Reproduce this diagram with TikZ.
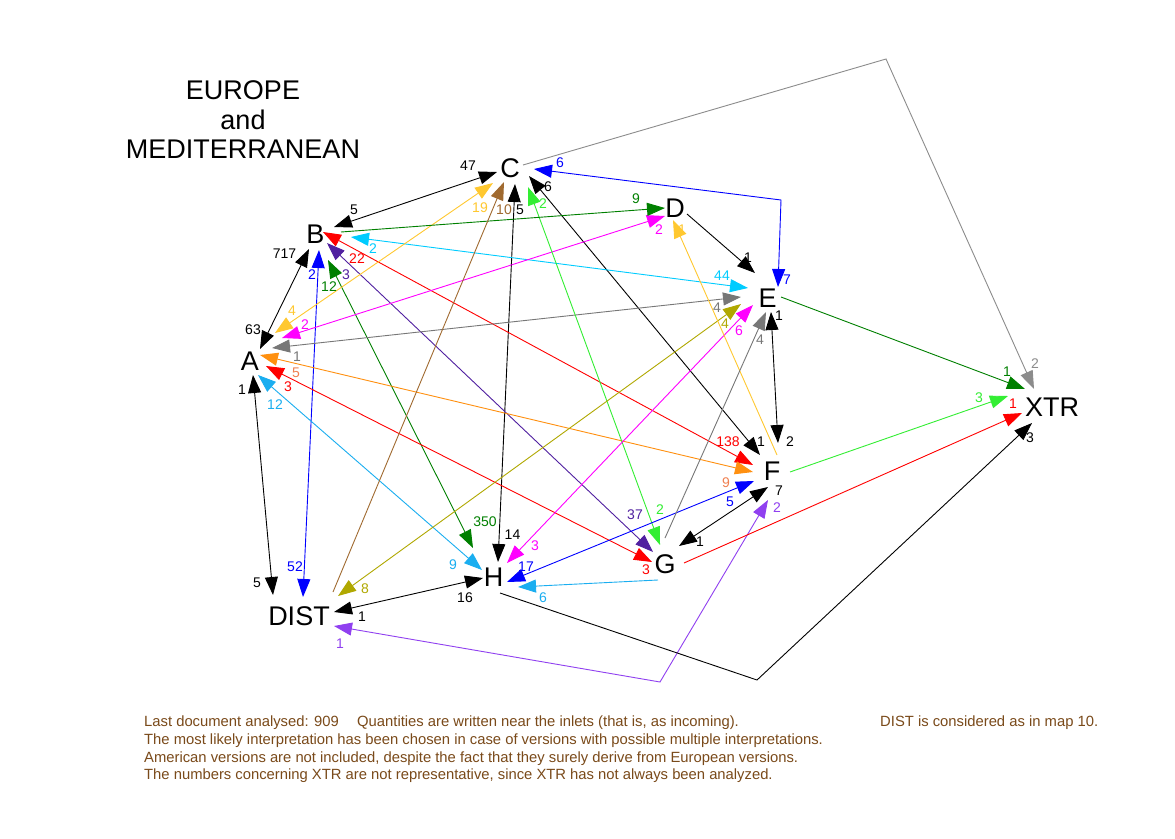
\documentclass[tikz,border=0pt]{standalone}
\usepackage{fontspec}
\setmainfont{Liberation Sans}
\usetikzlibrary{arrows.meta}
\definecolor{cgray}{HTML}{777777}
\definecolor{clgray}{HTML}{8C8C8C}
\definecolor{cblue}{HTML}{0000FF}
\definecolor{cdgreen}{HTML}{008000}
\definecolor{ccyan}{HTML}{00CCFF}
\definecolor{csky}{HTML}{1AAEF0}
\definecolor{cred}{HTML}{FF0000}
\definecolor{cpurple}{HTML}{5020A0}
\definecolor{clpurple}{HTML}{9040F0}
\definecolor{cgold}{HTML}{FFC830}
\definecolor{cmag}{HTML}{FF00FF}
\definecolor{corange}{HTML}{FF9010}
\definecolor{csalmon}{HTML}{F08050}
\definecolor{cbrown}{HTML}{A06A30}
\definecolor{cgreen}{HTML}{33EE33}
\definecolor{colive}{HTML}{B0A800}
\definecolor{ctext}{HTML}{7A4A1A}
\tikzset{
  sgl/.style={line width=0.9pt,-{Triangle[length=18pt,width=13pt]}},
  dbl/.style={line width=0.9pt,{Triangle[length=18pt,width=13pt]}-{Triangle[length=18pt,width=13pt]}},
  vtx/.style={font=\fontsize{27}{30}\selectfont, inner sep=0pt},
  ttl/.style={font=\fontsize{27}{30}\selectfont, inner sep=0pt},
  lab/.style={font=\fontsize{14}{16}\selectfont, inner sep=0pt},
  foot/.style={font=\fontsize{14.8}{17}\selectfont, text=ctext, inner sep=0pt, anchor=base west},
}
\begin{document}
\begin{tikzpicture}[x=1pt,y=-1pt]
\fill[white] (0,0) rectangle (1175,838);
\useasboundingbox (0,0) rectangle (1175,838);
% vertices
\node[vtx] (A) at (250,361.5) {A};
\node[vtx] (B) at (315.5,234) {B};
\node[vtx] (C) at (510,168.5) {C};
\node[vtx] (D) at (675,208.5) {D};
\node[vtx] (E) at (767.5,298.5) {E};
\node[vtx] (F) at (772,471) {F};
\node[vtx] (G) at (665,564.5) {G};
\node[vtx] (H) at (493.5,577.5) {H};
\node[vtx] (DIST) at (299,616) {DIST};
\node[vtx] (XTR) at (1052,407) {XTR};
% title
\node[ttl] (t1) at (243,90) {EUROPE};
\node[ttl] (t2) at (243,120) {and};
\node[ttl] (t3) at (243,149) {MEDITERRANEAN};
% endpoints of connectors
\coordinate (A-B) at (260,349);   \coordinate (B-A) at (309,249);
\coordinate (B-C) at (334,227);   \coordinate (C-B) at (497,172);
\coordinate (C-E) at (534,169);   \coordinate (CEk) at (781,200); \coordinate (E-C) at (778,287);
\coordinate (C-F) at (529,176);   \coordinate (F-C) at (760,455);
\coordinate (C-H) at (515,184);   \coordinate (H-C) at (498,562);
\coordinate (B-E) at (351,237);   \coordinate (E-B) at (748,288);
\coordinate (B-F) at (323,232);   \coordinate (F-B) at (753,465);
\coordinate (B-G) at (327,243);   \coordinate (G-B) at (653,552);
\coordinate (B-H) at (328,260);   \coordinate (H-B) at (473,548);
\coordinate (B-DIST) at (319,250); \coordinate (DIST-B) at (303,597);
\coordinate (A-C) at (275,333);   \coordinate (C-A) at (493,183);
\coordinate (A-D) at (282,338);   \coordinate (D-A) at (665,216);
\coordinate (A-E) at (272,348);   \coordinate (E-A) at (741,297);
\coordinate (A-F) at (260,355);   \coordinate (F-A) at (753,472);
\coordinate (A-G) at (266,366);   \coordinate (G-A) at (652,562);
\coordinate (A-H) at (258,375);   \coordinate (H-A) at (482,570);
\coordinate (A-DIST) at (253,375); \coordinate (DIST-A) at (273,595);
\coordinate (C-G) at (528,187);   \coordinate (G-C) at (660,545);
\coordinate (E-F) at (771,312);   \coordinate (F-E) at (778,443);
\coordinate (E-DIST) at (741,304); \coordinate (DIST-E) at (338,596);
\coordinate (E-H) at (753,305);   \coordinate (H-E) at (507,563);
\coordinate (F-G) at (768,487);   \coordinate (G-F) at (679,546);
\coordinate (F-H) at (754,481);   \coordinate (H-F) at (507,582);
\coordinate (F-DIST) at (768,500); \coordinate (FDk) at (660,682); \coordinate (DIST-F) at (334,626);
\coordinate (H-DIST) at (483,578); \coordinate (DIST-H) at (334,612);
\coordinate (B-D) at (341,232);   \coordinate (D-B) at (665,208);
\coordinate (DIST-C) at (333,592); \coordinate (C-DIST) at (504,182);
\coordinate (D-E) at (687,214);   \coordinate (E-D) at (755,273);
\coordinate (F-D) at (777,455);   \coordinate (D-F) at (673,220);
\coordinate (E-X) at (781,297);   \coordinate (X-E) at (1025,389);
\coordinate (G-E) at (665,538);   \coordinate (E-G) at (766,312);
\coordinate (F-X) at (790,472);   \coordinate (X-F) at (1008,396);
\coordinate (G-X) at (684,563);   \coordinate (X-G) at (1022,413);
\coordinate (G-H) at (658,580);   \coordinate (H-G) at (518,587);
\coordinate (H-X) at (500,593);   \coordinate (HXk) at (757,680); \coordinate (X-H) at (1032,423);
\coordinate (C-X) at (523,165);   \coordinate (CXk) at (886,59);  \coordinate (X-C) at (1034,389);
% double-headed connectors
\draw[dbl,black] (A-B) -- (B-A);
\draw[dbl,black] (B-C) -- (C-B);
\draw[dbl,cblue] (C-E) -- (CEk) -- (E-C);
\draw[dbl,black] (C-F) -- (F-C);
\draw[dbl,black] (C-H) -- (H-C);
\draw[dbl,ccyan] (B-E) -- (E-B);
\draw[dbl,cred] (B-F) -- (F-B);
\draw[dbl,cpurple] (B-G) -- (G-B);
\draw[dbl,cdgreen] (B-H) -- (H-B);
\draw[dbl,cblue] (B-DIST) -- (DIST-B);
\draw[dbl,cgold] (A-C) -- (C-A);
\draw[dbl,cmag] (A-D) -- (D-A);
\draw[dbl,cgray] (A-E) -- (E-A);
\draw[dbl,corange] (A-F) -- (F-A);
\draw[dbl,cred] (A-G) -- (G-A);
\draw[dbl,csky] (A-H) -- (H-A);
\draw[dbl,black] (A-DIST) -- (DIST-A);
\draw[dbl,cgreen] (C-G) -- (G-C);
\draw[dbl,black] (E-F) -- (F-E);
\draw[dbl,colive] (E-DIST) -- (DIST-E);
\draw[dbl,cmag] (E-H) -- (H-E);
\draw[dbl,black] (F-G) -- (G-F);
\draw[dbl,cblue] (F-H) -- (H-F);
\draw[dbl,clpurple] (F-DIST) -- (FDk) -- (DIST-F);
\draw[dbl,black] (H-DIST) -- (DIST-H);
% single-headed connectors
\draw[sgl,cdgreen] (B-D) -- (D-B);
\draw[sgl,cbrown] (DIST-C) -- (C-DIST);
\draw[sgl,black] (D-E) -- (E-D);
\draw[sgl,cgold] (F-D) -- (D-F);
\draw[sgl,cdgreen] (E-X) -- (X-E);
\draw[sgl,cgray] (G-E) -- (E-G);
\draw[sgl,cgreen] (F-X) -- (X-F);
\draw[sgl,cred] (G-X) -- (X-G);
\draw[sgl,csky] (G-H) -- (H-G);
\draw[sgl,black] (H-X) -- (HXk) -- (X-H);
\draw[sgl,clgray] (C-X) -- (CXk) -- (X-C);
% labels at C
\node[lab,text=black] (l1) at (468,166) {47};
\node[lab,text=cgold] (l2) at (480,208) {19};
\node[lab,text=cbrown] (l3) at (504,210) {10};
\node[lab,text=black] (l4) at (520,210) {5};
\node[lab,text=cgreen] (l5) at (543,204) {2};
\node[lab,text=black] (l6) at (548,187) {6};
\node[lab,text=cblue] (l7) at (560,163) {6};
% labels at B
\node[lab,text=black] (l8) at (354,210) {5};
\node[lab,text=black] (l9) at (284.5,254) {717};
\node[lab,text=cblue] (l10) at (312,275) {2};
\node[lab,text=cdgreen] (l11) at (329,287) {12};
\node[lab,text=cpurple] (l12) at (346,275) {3};
\node[lab,text=cred] (l13) at (357,259) {22};
\node[lab,text=ccyan] (l14) at (373,249) {2};
% labels at A
\node[lab,text=black] (l15) at (253,330) {63};
\node[lab,text=cgold] (l16) at (292,311) {4};
\node[lab,text=cmag] (l17) at (305,325) {2};
\node[lab,text=cgray] (l18) at (297,357) {1};
\node[lab,text=csalmon] (l19) at (296,373) {5};
\node[lab,text=cred] (l20) at (288,387) {3};
\node[lab,text=csky] (l21) at (275,405) {12};
\node[lab,text=black] (l22) at (242,390) {1};
% labels at D
\node[lab,text=cdgreen] (l23) at (636,199) {9};
\node[lab,text=cmag] (l24) at (659,230) {2};
\node[lab,text=cgold] (l25) at (682,230) {1};
% labels at E
\node[lab,text=black] (l26) at (748,258) {1};
\node[lab,text=cblue] (l27) at (787,280) {7};
\node[lab,text=ccyan] (l28) at (722,276) {44};
\node[lab,text=cgray] (l29) at (717,308) {4};
\node[lab,text=colive] (l30) at (725,324) {4};
\node[lab,text=cmag] (l31) at (739,331) {6};
\node[lab,text=cgray] (l32) at (760,340) {4};
\node[lab,text=black] (l33) at (779,316) {1};
% labels at F
\node[lab,text=cred] (l34) at (728,442) {138};
\node[lab,text=black] (l35) at (761,442) {1};
\node[lab,text=black] (l36) at (790,442) {2};
\node[lab,text=csalmon] (l37) at (726,483) {9};
\node[lab,text=cblue] (l38) at (730,502) {5};
\node[lab,text=black] (l39) at (779,491) {7};
\node[lab,text=clpurple] (l40) at (777,508) {2};
% labels at G
\node[lab,text=cpurple] (l41) at (635,515) {37};
\node[lab,text=cgreen] (l42) at (660,510) {2};
\node[lab,text=cred] (l43) at (646,570) {3};
\node[lab,text=black] (l44) at (700,542) {1};
% labels at H
\node[lab,text=cdgreen] (l45) at (485,522) {350};
\node[lab,text=black] (l46) at (512.5,535) {14};
\node[lab,text=cmag] (l47) at (535,546) {3};
\node[lab,text=csky] (l48) at (453,565) {9};
\node[lab,text=cblue] (l49) at (526,567) {17};
\node[lab,text=csky] (l50) at (543,598) {6};
\node[lab,text=black] (l51) at (465,598) {16};
% labels at DIST
\node[lab,text=black] (l52) at (257,583) {5};
\node[lab,text=cblue] (l53) at (295,567) {52};
\node[lab,text=colive] (l54) at (365,589) {8};
\node[lab,text=black] (l55) at (362,617) {1};
\node[lab,text=clpurple] (l56) at (340,644) {1};
% labels at XTR
\node[lab,text=cdgreen] (l57) at (1007,372) {1};
\node[lab,text=clgray] (l58) at (1035,364) {2};
\node[lab,text=cgreen] (l59) at (979,398) {3};
\node[lab,text=cred] (l60) at (1013,404) {1};
\node[lab,text=black] (l61) at (1030,438) {3};
% footnotes
\node[foot] (n1) at (144,726) {Last document analysed: 909};
\node[foot] (n2) at (357,726) {Quantities are written near the inlets (that is, as incoming).};
\node[foot] (n3) at (880,726) {DIST is considered as in map 10.};
\node[foot] (n4) at (144,744) {The most likely interpretation has been chosen in case of versions with possible multiple interpretations.};
\node[foot] (n5) at (144,762) {American versions are not included, despite the fact that they surely derive from European versions.};
\node[foot] (n6) at (144,779.5) {The numbers concerning XTR are not representative, since XTR has not always been analyzed.};
\end{tikzpicture}
\end{document}
